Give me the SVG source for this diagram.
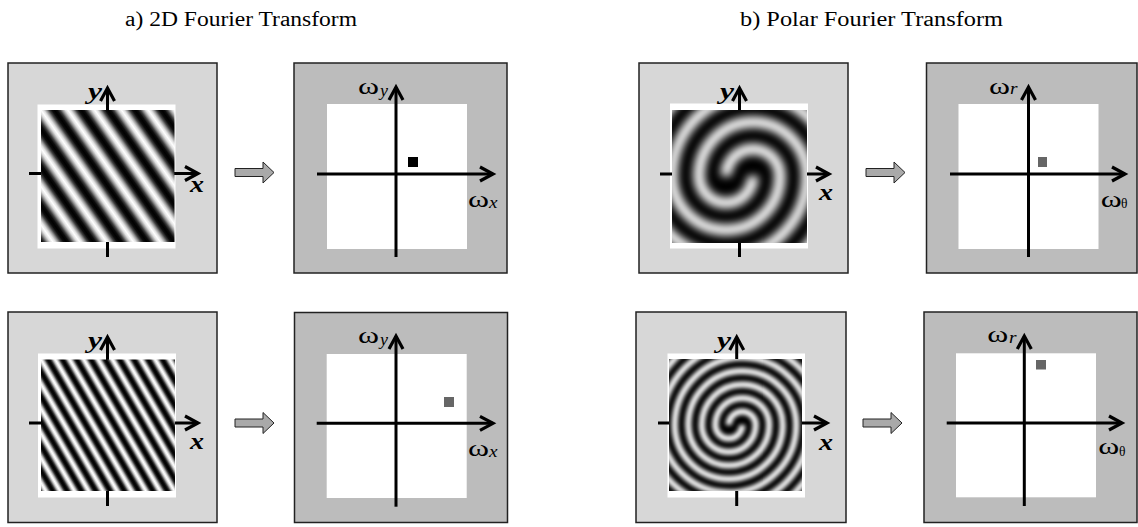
<svg xmlns="http://www.w3.org/2000/svg" width="1138" height="527" viewBox="0 0 1138 527">
<style>
.sp{fill:#d7d7d7;stroke:#222;stroke-width:1.5}
.fq{fill:#bcbcbc;stroke:#222;stroke-width:1.5}
.wh{fill:#fff}
.ax{stroke:#000;stroke-width:3;fill:none;marker-end:url(#ah)}
.lab{font-family:"Liberation Serif","Times New Roman",serif;font-style:italic;font-weight:bold;font-size:23px;fill:#000}
.om{font-family:"Liberation Serif","Times New Roman",serif;font-size:24px;fill:#000}
.sb{font-family:"Liberation Serif","Times New Roman",serif;font-style:italic;font-size:16px;fill:#000}
.th{font-family:"Liberation Serif","Times New Roman",serif;font-size:14px;fill:#000}
.ttl{font-family:"Liberation Serif","Times New Roman",serif;font-size:20px;fill:#000}
.blk{fill:#a9a9a9;stroke:#222;stroke-width:1}
.arm1{fill:none;stroke:#fff;stroke-width:11}
.arm2{fill:none;stroke:#fff;stroke-width:6}
</style>
<defs>
<marker id="ah" viewBox="-16 -9 18 18" refX="0" refY="0" markerWidth="18" markerHeight="18" markerUnits="userSpaceOnUse" orient="auto" overflow="visible">
<path d="M-13,-7 L0,0 L-13,7" fill="none" stroke="#000" stroke-width="3.2"/>
</marker>
<linearGradient id="st1" gradientUnits="userSpaceOnUse" x1="41" y1="110" x2="59" y2="97.4" spreadMethod="repeat">
<stop offset="0" stop-color="#fff"/><stop offset="0.1" stop-color="#e0e0e0"/><stop offset="0.2" stop-color="#999"/><stop offset="0.3" stop-color="#404040"/><stop offset="0.4" stop-color="#0c0c0c"/><stop offset="0.5" stop-color="#000"/><stop offset="0.6" stop-color="#0c0c0c"/><stop offset="0.7" stop-color="#404040"/><stop offset="0.8" stop-color="#999"/><stop offset="0.9" stop-color="#e0e0e0"/><stop offset="1" stop-color="#fff"/>
</linearGradient>
<linearGradient id="st2" href="#st1" gradientUnits="userSpaceOnUse" x1="41" y1="359.5" x2="51.7" y2="353.3" spreadMethod="repeat"/>
<clipPath id="c1"><rect x="672" y="110" width="135" height="133"/></clipPath>
<clipPath id="c2"><rect x="669" y="359" width="133" height="132"/></clipPath>
<filter id="b1" x="-20%" y="-20%" width="140%" height="140%"><feGaussianBlur stdDeviation="4"/></filter>
<filter id="b2" x="-20%" y="-20%" width="140%" height="140%"><feGaussianBlur stdDeviation="2"/></filter>
<path id="sp1" d="M0,0 A27,27 0 0 1 54,0 A54,54 0 0 1 -54,0 A81,81 0 0 1 108,0 A108,108 0 0 1 -108,0 A135,135 0 0 1 162,0"/>
<path id="sp2" d="M0,0 A13.5,13.5 0 0 1 27,0 A27,27 0 0 1 -27,0 A40.5,40.5 0 0 1 54,0 A54,54 0 0 1 -54,0 A67.5,67.5 0 0 1 81,0 A81,81 0 0 1 -81,0 A94.5,94.5 0 0 1 108,0 A108,108 0 0 1 -108,0"/>
</defs>

<text class="ttl" x="125" y="26" textLength="232" lengthAdjust="spacingAndGlyphs">a) 2D Fourier Transform</text>
<text class="ttl" x="740" y="26" textLength="263" lengthAdjust="spacingAndGlyphs">b) Polar Fourier Transform</text>

<g id="spatial-a1">
<rect class="sp" x="8" y="63" width="209" height="210"/>
<rect class="wh" x="37.5" y="104.5" width="138" height="144"/>
<line class="ax" x1="107.5" y1="257" x2="107.5" y2="88"/>
<line class="ax" x1="29" y1="173.5" x2="198" y2="173.5"/>
<rect x="41" y="110" width="133.5" height="132" fill="url(#st1)"/>
<text class="lab" x="88" y="99" textLength="14" lengthAdjust="spacingAndGlyphs">y</text>
<text class="lab" x="190" y="192" textLength="14" lengthAdjust="spacingAndGlyphs">x</text>
</g>

<g id="freq-a1">
<rect class="fq" x="294" y="63" width="213" height="210"/>
<rect class="wh" x="327" y="104" width="140" height="145"/>
<line class="ax" x1="396" y1="257" x2="396" y2="87"/>
<line class="ax" x1="317" y1="174" x2="493" y2="174"/>
<rect x="408" y="157" width="10" height="10" fill="#000"/>
<text class="om" x="358" y="93.5" textLength="21" lengthAdjust="spacingAndGlyphs">ω</text>
<text class="sb" x="380" y="96" textLength="8" lengthAdjust="spacingAndGlyphs">y</text>
<text class="om" x="468" y="206.5" textLength="21" lengthAdjust="spacingAndGlyphs">ω</text>
<text class="sb" x="489" y="208" textLength="8.5" lengthAdjust="spacingAndGlyphs">x</text>
</g>

<g id="spatial-a2">
<rect class="sp" x="8" y="312" width="209" height="210.5"/>
<rect class="wh" x="38" y="353.5" width="138" height="144"/>
<line class="ax" x1="107.5" y1="506" x2="107.5" y2="337"/>
<line class="ax" x1="29" y1="423" x2="198" y2="423"/>
<rect x="41" y="359.5" width="134" height="131.5" fill="url(#st2)"/>
<text class="lab" x="88" y="348" textLength="14" lengthAdjust="spacingAndGlyphs">y</text>
<text class="lab" x="190" y="449" textLength="14" lengthAdjust="spacingAndGlyphs">x</text>
</g>

<g id="freq-a2">
<rect class="fq" x="294.5" y="312.5" width="213" height="210"/>
<rect class="wh" x="326.7" y="354" width="140" height="144"/>
<line class="ax" x1="396" y1="506.7" x2="396" y2="336"/>
<line class="ax" x1="316.7" y1="423.3" x2="493" y2="423.3"/>
<rect x="444" y="397" width="10" height="10" fill="#666"/>
<text class="om" x="358" y="342.5" textLength="21" lengthAdjust="spacingAndGlyphs">ω</text>
<text class="sb" x="380" y="345" textLength="8" lengthAdjust="spacingAndGlyphs">y</text>
<text class="om" x="468" y="455.5" textLength="21" lengthAdjust="spacingAndGlyphs">ω</text>
<text class="sb" x="489" y="457" textLength="8.5" lengthAdjust="spacingAndGlyphs">x</text>
</g>

<g id="spatial-b1">
<rect class="sp" x="639" y="63" width="209" height="210"/>
<rect class="wh" x="670" y="103.5" width="138" height="145"/>
<line class="ax" x1="739.5" y1="257" x2="739.5" y2="88"/>
<line class="ax" x1="660" y1="174" x2="829" y2="174"/>
<g clip-path="url(#c1)">
<rect x="672" y="110" width="135" height="133" fill="#000"/>
<g transform="translate(739.5,176)" filter="url(#b1)">
<use href="#sp1" class="arm1" transform="translate(-13.5,0)"/>
<use href="#sp1" class="arm1" transform="rotate(180) translate(-13.5,0)"/>
</g>
</g>
<text class="lab" x="720" y="99" textLength="14" lengthAdjust="spacingAndGlyphs">y</text>
<text class="lab" x="819" y="200" textLength="14" lengthAdjust="spacingAndGlyphs">x</text>
</g>

<g id="freq-b1">
<rect class="fq" x="926.5" y="63" width="210.5" height="210"/>
<rect class="wh" x="958.5" y="104" width="140" height="145"/>
<line class="ax" x1="1028.5" y1="257" x2="1028.5" y2="87"/>
<line class="ax" x1="950" y1="174" x2="1125" y2="174"/>
<rect x="1038" y="157" width="9" height="10" fill="#666"/>
<text class="om" x="989" y="93.5" textLength="21" lengthAdjust="spacingAndGlyphs">ω</text>
<text class="sb" x="1010" y="94" textLength="7.5" lengthAdjust="spacingAndGlyphs">r</text>
<text class="om" x="1100.7" y="206.5" textLength="21" lengthAdjust="spacingAndGlyphs">ω</text>
<text class="th" x="1121" y="208" textLength="6.5" lengthAdjust="spacingAndGlyphs">θ</text>
</g>

<g id="spatial-b2">
<rect class="sp" x="636" y="312" width="210" height="210.5"/>
<rect class="wh" x="667.5" y="353.5" width="137.5" height="144"/>
<line class="ax" x1="736.7" y1="506" x2="736.7" y2="337"/>
<line class="ax" x1="658" y1="423" x2="827" y2="423"/>
<g clip-path="url(#c2)">
<rect x="669" y="359" width="133" height="132" fill="#000"/>
<g transform="translate(735.5,425)" filter="url(#b2)">
<use href="#sp2" class="arm2" transform="translate(-6.75,0)"/>
<use href="#sp2" class="arm2" transform="rotate(180) translate(-6.75,0)"/>
</g>
</g>
<text class="lab" x="717" y="348" textLength="14" lengthAdjust="spacingAndGlyphs">y</text>
<text class="lab" x="819" y="450" textLength="14" lengthAdjust="spacingAndGlyphs">x</text>
</g>

<g id="freq-b2">
<rect class="fq" x="924" y="312" width="213" height="210.5"/>
<rect class="wh" x="956" y="353.3" width="140" height="144"/>
<line class="ax" x1="1024.3" y1="506" x2="1024.3" y2="336"/>
<line class="ax" x1="946.7" y1="423" x2="1122" y2="423"/>
<rect x="1036" y="360" width="10" height="9.5" fill="#666"/>
<text class="om" x="987.3" y="342" textLength="21" lengthAdjust="spacingAndGlyphs">ω</text>
<text class="sb" x="1009" y="342.5" textLength="7.5" lengthAdjust="spacingAndGlyphs">r</text>
<text class="om" x="1098.3" y="454" textLength="21" lengthAdjust="spacingAndGlyphs">ω</text>
<text class="th" x="1119" y="456" textLength="6.5" lengthAdjust="spacingAndGlyphs">θ</text>
</g>

<g id="connectors">
<path class="blk" d="M235,168.5 H263 V162 L274,172.5 L263,183 V176.5 H235 Z"/>
<path class="blk" d="M235,419 H263 V412.5 L274,423 L263,433.5 V427 H235 Z"/>
<path class="blk" d="M866,168.5 H894 V162 L905,172.5 L894,183 V176.5 H866 Z"/>
<path class="blk" d="M863,419 H891 V412.5 L902,423 L891,433.5 V427 H863 Z"/>
</g>
</svg>
